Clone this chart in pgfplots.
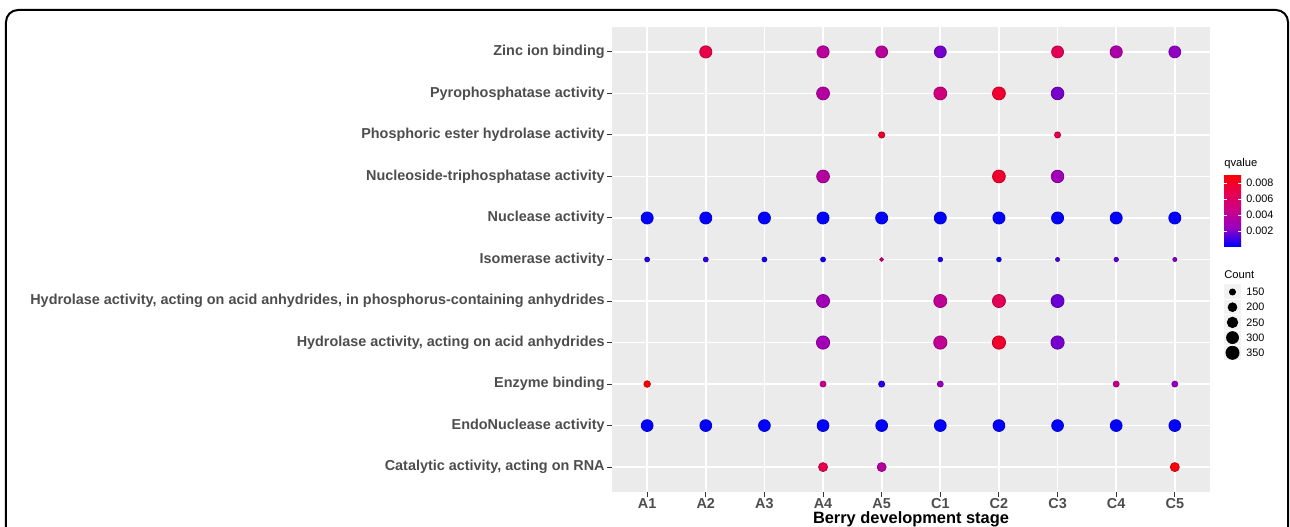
\documentclass[border=0pt]{standalone}
\usepackage{fontspec}
\setmainfont{Liberation Sans}
\usepackage{pgfplots}
\pgfplotsset{compat=1.18}
\usepackage{pgfplotstable}
\usetikzlibrary{calc}
\definecolor{ggbg}{RGB}{235,235,235}
\definecolor{ggtext}{RGB}{77,77,77}
\definecolor{ggtick}{RGB}{51,51,51}
\definecolor{ggkey}{RGB}{242,242,242}

% x: A1=0 ... C5=9 ; y: Catalytic=0 ... Zinc=10 ; c = Count ; q = qvalue
\pgfplotstableread{
x y c q
1 10 310 0.0071
3 10 310 0.0039
4 10 300 0.0039
5 10 300 0.0019
7 10 300 0.0066
8 10 310 0.0034
9 10 300 0.0023
3 9 340 0.0037
5 9 340 0.0051
6 9 340 0.0078
7 9 330 0.0019
4 8 152 0.0079
7 8 150 0.0069
3 7 335 0.0037
6 7 335 0.0078
7 7 325 0.0028
0 6 305 0.00015
1 6 305 0.00015
2 6 305 0.00015
3 6 305 0.00015
4 6 305 0.00015
5 6 305 0.00015
6 6 305 0.00015
7 6 305 0.00015
8 6 305 0.00015
9 6 305 0.00015
0 5 137 0.00064
1 5 137 0.00082
2 5 137 0.00046
3 5 137 0.00037
4 5 131 0.0046
5 5 135 0.00055
6 5 135 0.00028
7 5 132 0.0012
8 5 134 0.0015
9 5 132 0.0021
3 4 345 0.0028
5 4 345 0.0042
6 4 345 0.0066
7 4 345 0.0017
3 3 355 0.0028
5 3 355 0.0042
6 3 355 0.0079
7 3 355 0.0019
0 2 156 0.0091
3 2 148 0.0046
4 2 150 0.00064
5 2 148 0.0025
8 2 148 0.0044
9 2 148 0.0024
0 1 295 0.00015
1 1 295 0.00015
2 1 295 0.00015
3 1 295 0.00015
4 1 295 0.00015
5 1 295 0.00015
6 1 295 0.00015
7 1 295 0.00015
8 1 295 0.00015
9 1 295 0.00015
3 0 205 0.0069
4 0 205 0.0037
9 0 205 0.0088
}\dotdata

\pgfplotstableread{
x y c
0.5 0.5 150
0.5 1.5 200
0.5 2.5 250
0.5 3.5 300
0.5 4.5 350
}\sizelegend

\pgfplotsset{
  sizedots/.style={
    scatter, only marks, mark=*,
    visualization depends on={\thisrow{c} \as \cnt},
    scatter/@pre marker code/.append style={
      /tikz/line width=0.2pt,
      /tikz/mark size={(3.5+10.5*sqrt(max(\cnt-130,0)/240))/4-0.1}
    },
  },
}

\begin{document}
\begin{tikzpicture}
\begin{axis}[
  at={(0pt,0pt)}, anchor=south west,
  scale only axis, width=299pt, height=232.5pt,
  xmin=-0.6, xmax=9.6, ymin=-0.6, ymax=10.6,
  xtick={0,...,9},
  xticklabels={A1,A2,A3,A4,A5,C1,C2,C3,C4,C5},
  ytick={0,...,10},
  yticklabels={
    {Catalytic activity, acting on RNA},
    {EndoNuclease activity},
    {Enzyme binding},
    {Hydrolase activity, acting on acid anhydrides},
    {Hydrolase activity, acting on acid anhydrides, in phosphorus-containing anhydrides},
    {Isomerase activity},
    {Nuclease activity},
    {Nucleoside-triphosphatase activity},
    {Phosphoric ester hydrolase activity},
    {Pyrophosphatase activity},
    {Zinc ion binding}},
  axis background/.style={fill=ggbg},
  axis line style={draw=none},
  grid=major, major grid style={white, line width=0.9pt},
  tick align=outside, xtick pos=bottom, ytick pos=left,
  major tick length=2.5pt, tick style={ggtick, line width=0.5pt},
  ticklabel style={font=\fontsize{7.2}{8.6}\selectfont\bfseries, text=ggtext, inner sep=1pt},
  xticklabel style={inner sep=0.6pt},
  colormap={ggbr}{rgb255=(0,0,255) rgb255=(151,0,192) rgb255=(202,0,137) rgb255=(232,0,79) rgb255=(255,0,0)},
  point meta min=0.000125, point meta max=0.009125,
  colorbar,
  colorbar shift/.style={},
  colorbar style={
    at={($(parent axis.south east)+(7pt,123pt)$)}, anchor=south west,
    scale only axis, width=8.5pt, height=36pt,
    ytick={0.002,0.004,0.006,0.008},
    scaled y ticks=false,
    axis line style={draw=none},
    major tick length=1.7pt,
    tick style={white, line width=0.5pt},
    tick align=inside,
    ytick pos=both,
    yticklabel pos=right,
    yticklabel style={font=\fontsize{5.4}{6.5}\selectfont, text=black, inner sep=0pt, xshift=2.5pt,
      /pgf/number format/fixed, /pgf/number format/fixed zerofill,
      /pgf/number format/precision=3, /pgf/number format/assume math mode=true},
  },
]
\addplot[sizedots, point meta=explicit] table[x=x, y=y, meta=q] {\dotdata};
\end{axis}

% size legend
\begin{axis}[
  at={(306pt,65.8pt)}, anchor=south west,
  scale only axis, width=8.5pt, height=38pt,
  xmin=0, xmax=1, ymin=0, ymax=5, y dir=reverse,
  axis line style={draw=none},
  xtick=\empty,
  ytick={0.5,1.5,2.5,3.5,4.5},
  yticklabels={150,200,250,300,350},
  ytick pos=right, yticklabel pos=right,
  major tick length=0pt,
  yticklabel style={font=\fontsize{5.4}{6.5}\selectfont, text=black, inner sep=0pt, xshift=2.5pt},
  clip=false,
]
\fill[ggkey] (axis cs:0,0) rectangle (axis cs:1,5);
\pgfplotsinvokeforeach{1,2,3,4}{\draw[white, line width=0.5pt] (axis cs:0,#1) -- (axis cs:1,#1);}
\addplot[scatter, scatter/use mapped color={draw=black, fill=black}, sizedots, point meta=explicit] table[x=x, y=y, meta=c] {\sizelegend};
\end{axis}

\node[anchor=base west, inner sep=0pt, font=\fontsize{5.6}{6.7}\selectfont] at (306pt,163pt) {qvalue};
\node[anchor=base west, inner sep=0pt, font=\fontsize{5.6}{6.7}\selectfont] at (306pt,107pt) {Count};
\node[anchor=base, inner sep=0pt, font=\fontsize{8.2}{9.8}\selectfont\bfseries] at (149.5pt,-15.8pt) {Berry development stage};

\draw[line width=1pt, rounded corners=6pt] (-303pt,-25pt) -- (-303pt,241pt) -- (338pt,241pt) -- (338pt,-25pt);

\pgfresetboundingbox
\path[use as bounding box] (-306pt,-17pt) rectangle (339pt,246pt);
\end{tikzpicture}
\end{document}
